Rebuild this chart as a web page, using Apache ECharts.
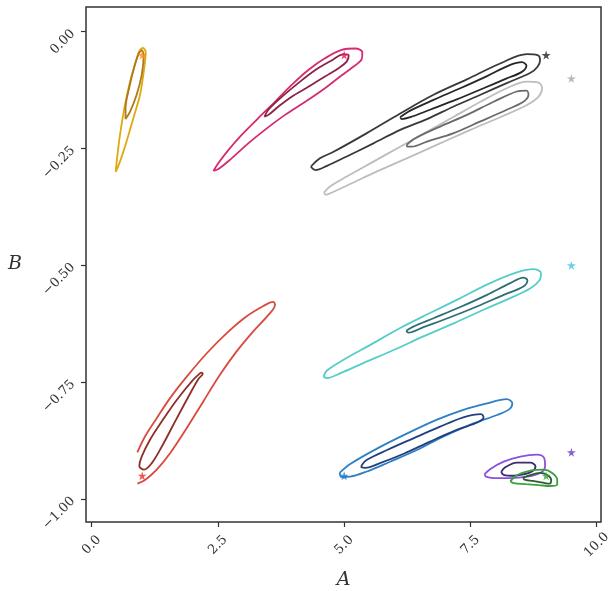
<!DOCTYPE html>
<html>
<head>
<meta charset="utf-8">
<script src="https://cdn.jsdelivr.net/npm/echarts@6/dist/echarts.min.js"></script>
<style>html,body{margin:0;padding:0;background:#fff}#c{width:608px;height:591px}</style>
</head>
<body>
<div id="c"></div>
<script>
// ---- data (A, B) ----
const xTicks = [0, 2.5, 5, 7.5, 10];
const yTicks = [-1, -0.75, -0.5, -0.25, 0];

const orangeOuter = [[1.02,-0.034],[1.07,-0.043],[1.04,-0.078],[0.957,-0.135],[0.825,-0.185],[0.69,-0.235],[0.56,-0.278],[0.476,-0.30],[0.495,-0.278],[0.56,-0.221],[0.646,-0.164],[0.759,-0.107],[0.872,-0.064],[0.944,-0.041],[1.02,-0.034]];
const orangeInner = [[0.997,-0.039],[1.03,-0.05],[0.99,-0.093],[0.89,-0.135],[0.76,-0.171],[0.67,-0.187],[0.67,-0.164],[0.74,-0.121],[0.845,-0.075],[0.937,-0.046],[0.997,-0.039]];
const pinkOuter = [[2.41,-0.298],[2.51,-0.281],[2.71,-0.253],[2.97,-0.221],[3.30,-0.185],[3.63,-0.150],[3.96,-0.114],[4.29,-0.082],[4.62,-0.057],[4.95,-0.039],[5.22,-0.036],[5.36,-0.044],[5.35,-0.058],[5.18,-0.075],[4.92,-0.096],[4.62,-0.121],[4.23,-0.150],[3.83,-0.178],[3.43,-0.210],[3.10,-0.239],[2.77,-0.271],[2.51,-0.294],[2.41,-0.298]];
const pinkInner = [[3.42,-0.182],[3.50,-0.167],[3.77,-0.139],[4.09,-0.110],[4.43,-0.082],[4.76,-0.061],[4.99,-0.048],[5.09,-0.051],[5.05,-0.064],[4.89,-0.078],[4.62,-0.096],[4.29,-0.118],[3.96,-0.139],[3.70,-0.160],[3.50,-0.178],[3.42,-0.182]];
const blackOuter = [[4.34,-0.289],[4.52,-0.271],[4.79,-0.257],[5.45,-0.217],[6.11,-0.175],[6.77,-0.135],[7.43,-0.102],[8.09,-0.068],[8.62,-0.048],[8.83,-0.050],[8.88,-0.061],[8.83,-0.075],[8.69,-0.088],[8.22,-0.110],[7.70,-0.135],[7.17,-0.160],[6.64,-0.187],[6.11,-0.210],[5.58,-0.239],[5.05,-0.267],[4.66,-0.287],[4.43,-0.296],[4.34,-0.289]];
const blackInner = [[6.11,-0.183],[6.31,-0.169],[6.77,-0.146],[7.30,-0.121],[7.83,-0.095],[8.29,-0.071],[8.52,-0.065],[8.61,-0.073],[8.52,-0.086],[8.22,-0.100],[7.76,-0.121],[7.23,-0.145],[6.70,-0.167],[6.31,-0.183],[6.14,-0.187],[6.11,-0.183]];
const grayOuter = [[4.60,-0.344],[4.72,-0.331],[5.05,-0.310],[5.58,-0.278],[6.11,-0.246],[6.64,-0.214],[7.17,-0.182],[7.70,-0.150],[8.22,-0.121],[8.62,-0.107],[8.85,-0.109],[8.92,-0.121],[8.85,-0.139],[8.62,-0.157],[8.09,-0.183],[7.50,-0.210],[6.90,-0.239],[6.24,-0.271],[5.65,-0.299],[5.12,-0.326],[4.76,-0.344],[4.64,-0.349],[4.60,-0.344]];
const grayInner = [[6.24,-0.242],[6.41,-0.228],[6.90,-0.203],[7.43,-0.178],[7.96,-0.150],[8.42,-0.128],[8.61,-0.126],[8.65,-0.135],[8.55,-0.150],[8.22,-0.167],[7.70,-0.192],[7.17,-0.217],[6.64,-0.235],[6.34,-0.246],[6.25,-0.246],[6.24,-0.242]];
const redOuter = [[0.904,-0.900],[1.056,-0.866],[1.288,-0.827],[1.552,-0.784],[1.883,-0.738],[2.279,-0.688],[2.675,-0.645],[3.07,-0.609],[3.40,-0.587],[3.59,-0.578],[3.63,-0.584],[3.50,-0.606],[3.20,-0.641],[2.87,-0.684],[2.54,-0.734],[2.21,-0.791],[1.883,-0.848],[1.552,-0.902],[1.288,-0.937],[1.056,-0.959],[0.904,-0.967]];
const redInner = [[2.166,-0.729],[1.982,-0.748],[1.684,-0.788],[1.387,-0.834],[1.155,-0.873],[0.99,-0.909],[0.943,-0.929],[1.037,-0.937],[1.19,-0.923],[1.387,-0.888],[1.651,-0.834],[1.915,-0.781],[2.113,-0.743],[2.20,-0.732],[2.166,-0.729]];
const cyanOuter = [[4.59,-0.738],[4.66,-0.725],[4.99,-0.702],[5.52,-0.670],[6.11,-0.634],[6.70,-0.602],[7.30,-0.570],[7.89,-0.538],[8.42,-0.515],[8.75,-0.508],[8.90,-0.517],[8.87,-0.532],[8.69,-0.549],[8.29,-0.570],[7.76,-0.595],[7.17,-0.624],[6.57,-0.652],[5.98,-0.681],[5.38,-0.709],[4.92,-0.731],[4.66,-0.741],[4.59,-0.738]];
const cyanInner = [[6.23,-0.640],[6.37,-0.631],[6.77,-0.613],[7.30,-0.589],[7.83,-0.563],[8.29,-0.538],[8.55,-0.526],[8.63,-0.532],[8.55,-0.545],[8.16,-0.563],[7.63,-0.588],[7.10,-0.611],[6.57,-0.632],[6.27,-0.644],[6.23,-0.640]];
const blueOuter = [[4.91,-0.944],[5.12,-0.925],[5.65,-0.892],[6.24,-0.860],[6.84,-0.830],[7.36,-0.809],[7.83,-0.795],[8.22,-0.786],[8.33,-0.795],[8.28,-0.807],[8.03,-0.820],[7.56,-0.838],[6.97,-0.866],[6.44,-0.895],[5.91,-0.920],[5.45,-0.941],[5.12,-0.952],[4.95,-0.953],[4.91,-0.944]];
const blueInner = [[5.35,-0.927],[5.45,-0.916],[5.85,-0.895],[6.37,-0.870],[6.90,-0.845],[7.36,-0.825],[7.71,-0.818],[7.76,-0.825],[7.66,-0.835],[7.23,-0.852],[6.70,-0.877],[6.18,-0.903],[5.71,-0.923],[5.42,-0.933],[5.34,-0.932],[5.35,-0.927]];
const purpleOuter = [[7.78,-0.947],[7.89,-0.936],[8.16,-0.920],[8.49,-0.909],[8.82,-0.905],[8.96,-0.912],[8.98,-0.930],[8.88,-0.944],[8.62,-0.952],[8.29,-0.955],[7.96,-0.955],[7.81,-0.952],[7.78,-0.947]];
const purpleInner = [[8.11,-0.942],[8.19,-0.932],[8.42,-0.922],[8.69,-0.922],[8.79,-0.930],[8.72,-0.941],[8.55,-0.947],[8.36,-0.950],[8.16,-0.948],[8.11,-0.942]];
const greenOuter = [[8.29,-0.962],[8.42,-0.949],[8.69,-0.939],[8.95,-0.937],[9.12,-0.944],[9.22,-0.959],[9.22,-0.969],[9.08,-0.972],[8.85,-0.970],[8.59,-0.968],[8.36,-0.966],[8.29,-0.962]];
const greenInner = [[8.54,-0.955],[8.65,-0.950],[8.88,-0.944],[9.03,-0.949],[9.10,-0.959],[9.07,-0.967],[8.94,-0.965],[8.74,-0.961],[8.59,-0.959],[8.54,-0.955]];

const starNames = ['orange','pink','black','gray','cyan','purple','green','blue','red'];
const starA = [1.0, 5.0, 9.0, 9.5, 9.5, 9.5, 9.0, 5.0, 1.0];
const starB = [-0.05, -0.05, -0.05, -0.1, -0.5, -0.9, -0.95, -0.95, -0.95];

// ---- styles ----
const contours = [
  [orangeOuter, '#e0a810'], [orangeInner, '#b07818'],
  [pinkOuter, '#d62a72'], [pinkInner, '#8c2246'],
  [grayOuter, '#bdbdbd'], [grayInner, '#6a6a6a'],
  [blackOuter, '#383838'], [blackInner, '#262626'],
  [redOuter, '#d8493e'], [redInner, '#8e2e28'],
  [cyanOuter, '#55cdc8'], [cyanInner, '#2f6e78'],
  [blueOuter, '#2f7fc4'], [blueInner, '#22407c'],
  [purpleOuter, '#8a50de'], [purpleInner, '#3c2c6e'],
  [greenOuter, '#3d9e3d'], [greenInner, '#2d5c32']
];
const starColors = ['#ff8c1a','#ea1f63','#222222','#a8a8a8','#3cc8e0','#6a3cc4','#3ca03c','#1f78d2','#e8302a'];
const starPath = 'path://M50,0 L61,35 L98,35 L68,57 L79,91 L50,70 L21,91 L32,57 L2,35 L39,35 Z';

const series = contours.map(([d, c]) => ({
  type: 'line', data: d, smooth: 0.35, showSymbol: false, symbol: 'none',
  lineStyle: { color: c, width: 1.8 }, silent: true, z: 2
}));
starNames.forEach((n, i) => {
  series.push({
    type: 'scatter', name: n, data: [[starA[i], starB[i]]],
    symbol: starPath, symbolSize: 9, itemStyle: { color: starColors[i] }, z: 5
  });
});

const fontFam = '"DejaVu Serif", "Liberation Serif", serif';
const chart = echarts.init(document.getElementById('c'), null, { renderer: 'canvas' });
chart.setOption({
  animation: false,
  backgroundColor: '#fff',
  grid: { left: 86, right: 7, top: 7, bottom: 69, containLabel: false, outerBoundsMode: 'none',
    show: true, borderColor: '#333', borderWidth: 1.5, backgroundColor: 'transparent' },
  xAxis: {
    type: 'value', min: -0.113, max: 10.087,
    name: 'A', nameLocation: 'middle', nameGap: 49,
    nameTextStyle: { fontFamily: fontFam, fontStyle: 'italic', fontSize: 19, color: '#333' },
    axisLine: { show: false, onZero: false },
    splitLine: { show: false },
    axisTick: { show: true, length: 5, lineStyle: { color: '#333', width: 1.2 }, customValues: xTicks },
    axisLabel: { rotate: 45, align: 'center', verticalAlign: 'middle', fontFamily: fontFam, fontSize: 13, color: '#333', margin: 23,
      customValues: xTicks, formatter: v => v.toFixed(1).replace('-', '\u2212') }
  },
  yAxis: {
    type: 'value', min: -1.049, max: 0.0528,
    name: 'B', nameLocation: 'middle', nameGap: 64, nameRotate: 0,
    nameTextStyle: { fontFamily: fontFam, fontStyle: 'italic', fontSize: 19, color: '#333' },
    axisLine: { show: false, onZero: false },
    splitLine: { show: false },
    axisTick: { show: true, length: 5, lineStyle: { color: '#333', width: 1.2 }, customValues: yTicks },
    axisLabel: { rotate: 45, fontFamily: fontFam, fontSize: 13, color: '#333', margin: 13,
      customValues: yTicks, formatter: v => v.toFixed(2).replace('-', '\u2212') }
  },
  series: series
});
</script>
</body>
</html>
